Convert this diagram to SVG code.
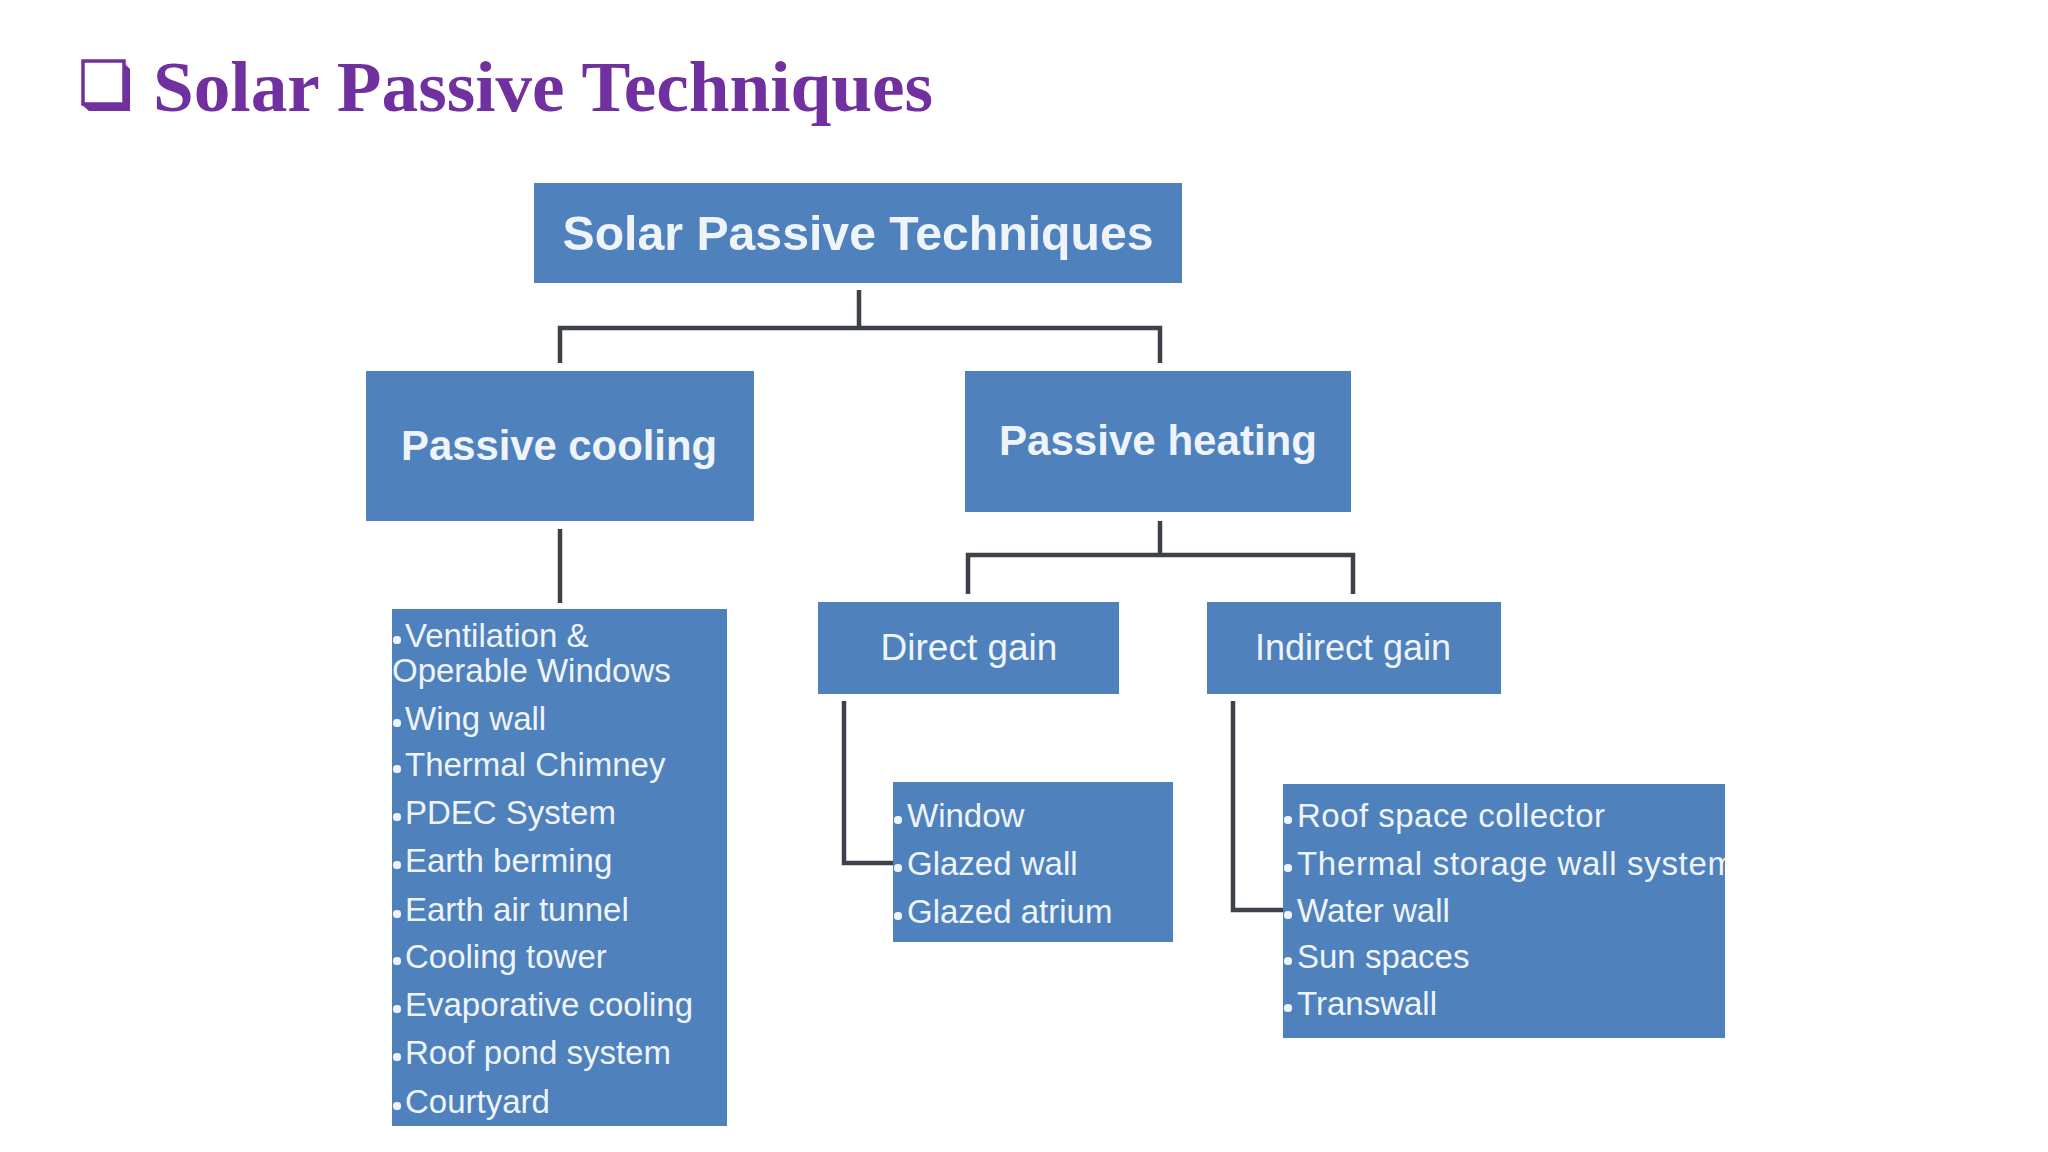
<svg xmlns="http://www.w3.org/2000/svg" width="2048" height="1152" viewBox="0 0 2048 1152">
<style>
.box{fill:#4f81bd;}
.h1{font-family:"Liberation Sans",Arial,sans-serif;font-weight:bold;fill:#eef4fa;}
.h2{font-family:"Liberation Sans",Arial,sans-serif;fill:#eef4fa;}
.li{font-family:"Liberation Sans",Arial,sans-serif;font-size:33px;fill:#eef4fa;}
.bul{fill:#eef4fa;}
.conn{fill:none;stroke:#3c4247;stroke-width:4.5;stroke-linejoin:miter;}
.title{font-family:"Liberation Serif","Times New Roman",serif;font-weight:bold;font-size:72px;fill:#7030a0;}
</style>
<rect width="2048" height="1152" fill="#ffffff"/>
<g id="title">
<path d="M83 61 H124 V104 H83 Z" fill="none" stroke="#7030a0" stroke-width="3.5"/>
<path d="M122 61 L130 69 V111 H89 L81 104 H124 V61 Z" fill="#7030a0"/>
<text class="title" x="153" y="111" textLength="780" lengthAdjust="spacingAndGlyphs">Solar Passive Techniques</text>
</g>
<g id="connectors">
<path class="conn" d="M859 290 V328 M560 363 V328 H1160 V363"/>
<path class="conn" d="M560 529 V603"/>
<path class="conn" d="M1160 521 V555 M968 594 V555 H1353 V594"/>
<path class="conn" d="M844 701 V863 H893"/>
<path class="conn" d="M1233 701 V910 H1283"/>
</g>
<g id="root">
<rect class="box" x="534" y="183" width="648" height="100"/>
<text class="h1" x="858" y="250" font-size="48" text-anchor="middle" textLength="591" lengthAdjust="spacingAndGlyphs">Solar Passive Techniques</text>
</g>
<g id="passive-cooling">
<rect class="box" x="366" y="371" width="388" height="150"/>
<text class="h1" x="559" y="460" font-size="43" text-anchor="middle" textLength="316" lengthAdjust="spacingAndGlyphs">Passive cooling</text>
</g>
<g id="passive-heating">
<rect class="box" x="965" y="371" width="386" height="141"/>
<text class="h1" x="1158" y="455" font-size="43" text-anchor="middle" textLength="318" lengthAdjust="spacingAndGlyphs">Passive heating</text>
</g>
<g id="cooling-list">
<rect class="box" x="392" y="609" width="335" height="517"/>
<g class="bul">
<rect x="393" y="636" width="8" height="8" rx="3.5"/>
<rect x="393" y="719" width="8" height="8" rx="3.5"/>
<rect x="393" y="765" width="8" height="8" rx="3.5"/>
<rect x="393" y="813" width="8" height="8" rx="3.5"/>
<rect x="393" y="861" width="8" height="8" rx="3.5"/>
<rect x="393" y="910" width="8" height="8" rx="3.5"/>
<rect x="393" y="957" width="8" height="8" rx="3.5"/>
<rect x="393" y="1005" width="8" height="8" rx="3.5"/>
<rect x="393" y="1053" width="8" height="8" rx="3.5"/>
<rect x="393" y="1102" width="8" height="8" rx="3.5"/>
</g>
<text class="li" x="405" y="647">Ventilation &amp;</text>
<text class="li" x="392" y="682">Operable Windows</text>
<text class="li" x="405" y="730">Wing wall</text>
<text class="li" x="405" y="776">Thermal Chimney</text>
<text class="li" x="405" y="824">PDEC System</text>
<text class="li" x="405" y="872">Earth berming</text>
<text class="li" x="405" y="921">Earth air tunnel</text>
<text class="li" x="405" y="968">Cooling tower</text>
<text class="li" x="405" y="1016">Evaporative cooling</text>
<text class="li" x="405" y="1064">Roof pond system</text>
<text class="li" x="405" y="1113">Courtyard</text>
</g>
<g id="direct-gain">
<rect class="box" x="818" y="602" width="301" height="92"/>
<text class="h2" x="969" y="660" font-size="37" text-anchor="middle">Direct gain</text>
</g>
<g id="indirect-gain">
<rect class="box" x="1207" y="602" width="294" height="92"/>
<text class="h2" x="1353" y="660" font-size="36" text-anchor="middle">Indirect gain</text>
</g>
<g id="direct-list">
<rect class="box" x="893" y="782" width="280" height="160"/>
<g class="bul">
<rect x="894" y="816" width="8" height="8" rx="3.5"/>
<rect x="894" y="864" width="8" height="8" rx="3.5"/>
<rect x="894" y="912" width="8" height="8" rx="3.5"/>
</g>
<text class="li" x="907" y="827">Window</text>
<text class="li" x="907" y="875">Glazed wall</text>
<text class="li" x="907" y="923">Glazed atrium</text>
</g>
<g id="indirect-list">
<clipPath id="clipInd"><rect x="1283" y="784" width="442" height="254"/></clipPath>
<rect class="box" x="1283" y="784" width="442" height="254"/>
<g class="bul">
<rect x="1284" y="816" width="8" height="8" rx="3.5"/>
<rect x="1284" y="864" width="8" height="8" rx="3.5"/>
<rect x="1284" y="911" width="8" height="8" rx="3.5"/>
<rect x="1284" y="957" width="8" height="8" rx="3.5"/>
<rect x="1284" y="1004" width="8" height="8" rx="3.5"/>
</g>
<g clip-path="url(#clipInd)">
<text class="li" x="1297" y="827" textLength="308" lengthAdjust="spacing">Roof space collector</text>
<text class="li" x="1297" y="875" textLength="438" lengthAdjust="spacing">Thermal storage wall system</text>
<text class="li" x="1297" y="922">Water wall</text>
<text class="li" x="1297" y="968">Sun spaces</text>
<text class="li" x="1297" y="1015">Transwall</text>
</g>
</g>
</svg>
